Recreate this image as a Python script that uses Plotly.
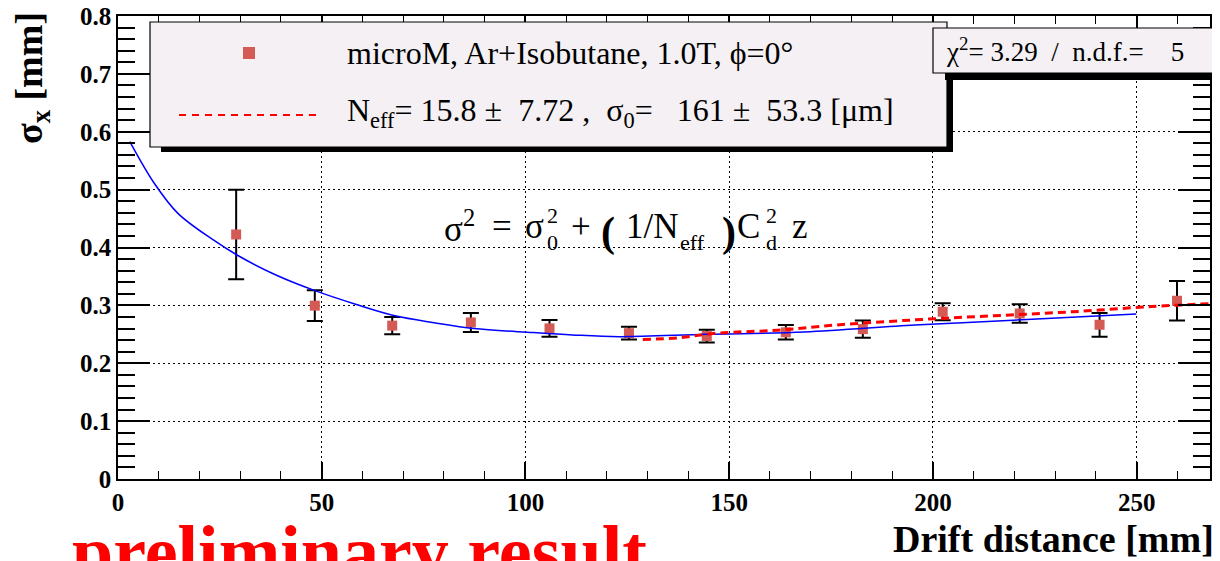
import plotly.graph_objects as go

# ---- data ----
drift_mm = [29.0, 48.3, 67.3, 86.6, 105.9, 125.4, 144.5, 163.9, 182.8, 202.4, 221.3, 240.9, 259.9]
sigma_mm = [0.4225, 0.2995, 0.265, 0.2705, 0.2602, 0.252, 0.247, 0.2535, 0.259, 0.289, 0.286, 0.2665, 0.308]
sigma_err = [0.0775, 0.0265, 0.015, 0.0165, 0.0144, 0.011, 0.011, 0.0125, 0.015, 0.0145, 0.016, 0.0205, 0.034]

blue_z = [2.9, 8.9, 14.7, 23.4, 29.2, 38.9, 48.5, 58.3, 68.0, 77.6, 87.3, 101.9, 111.5, 123.0, 144.3, 168.5, 195.6, 221.8, 249.9]
blue_s = [0.583, 0.511, 0.459, 0.413, 0.387, 0.352, 0.325, 0.302, 0.282, 0.270, 0.260, 0.253, 0.249, 0.246, 0.250, 0.254, 0.266, 0.275, 0.285]

red_z = [128.8, 137.5, 147.2, 161.7, 176.2, 195.6, 214.9, 234.3, 253.7, 268.0]
red_s = [0.241, 0.244, 0.252, 0.257, 0.266, 0.275, 0.282, 0.289, 0.298, 0.303]

x_ticks = [0, 50, 100, 150, 200, 250]
y_ticks = [0, 0.1, 0.2, 0.3, 0.4, 0.5, 0.6, 0.7, 0.8]
y_ticklabels = ["0", "0.1", "0.2", "0.3", "0.4", "0.5", "0.6", "0.7", "0.8"]

legend_line1 = "microM, Ar+Isobutane, 1.0T, \u03d5=0\u00b0"
legend_line2 = ("N<sub>eff</sub>= 15.8\u00a0\u00b1\u00a0\u00a07.72\u00a0,\u00a0\u00a0\u03c3<sub>0</sub>="
                "\u00a0\u00a0\u00a0161\u00a0\u00b1\u00a0\u00a053.3 [\u03bcm]")
chi2_text = "\u03c7<sup>2</sup>= 3.29\u00a0\u00a0/\u00a0\u00a0n.d.f.=\u00a0\u00a0\u00a0\u00a05"

# ---- geometry helpers (screen pixel -> paper) ----
W, H = 1220, 561
OFF = 8  # default page body margin
SL, SR, ST, SB = 118, 1210, 16, 479   # plot frame on screen
def px(x):
    return (x - SL) / (SR - SL)
def py(y):
    return (SB - y) / (SB - ST)

SERIF = "Liberation Serif, Times New Roman, serif"
MARK = "#d45a55"

fig = go.Figure()

fig.add_trace(go.Scatter(
    x=drift_mm, y=sigma_mm, mode="markers",
    marker=dict(symbol="square", size=10, color=MARK),
    error_y=dict(type="data", array=sigma_err, visible=True, color="black", thickness=2, width=8),
    showlegend=False, cliponaxis=False))

fig.add_trace(go.Scatter(
    x=blue_z, y=blue_s, mode="lines", line=dict(color="#0000ff", width=1.5, shape="spline"),
    showlegend=False))

fig.add_trace(go.Scatter(
    x=red_z, y=red_s, mode="lines", line=dict(color="#ff0000", width=3, dash="8px,5px", shape="spline"),
    showlegend=False))

shapes = []
# legend shadow + box
shapes.append(dict(type="rect", xref="paper", yref="paper", x0=px(161), x1=px(953), y0=py(152), y1=py(28),
                   fillcolor="black", line=dict(width=0), layer="above"))
shapes.append(dict(type="rect", xref="paper", yref="paper", x0=px(150), x1=px(947), y0=py(147), y1=py(22),
                   fillcolor="#f4f0f4", line=dict(color="black", width=1.2), layer="above"))
# chi2 shadow + box
shapes.append(dict(type="rect", xref="paper", yref="paper", x0=px(945), x1=px(1230), y0=py(80), y1=py(34),
                   fillcolor="black", line=dict(width=0), layer="above"))
shapes.append(dict(type="rect", xref="paper", yref="paper", x0=px(933), x1=px(1218), y0=py(73), y1=py(28),
                   fillcolor="#f4f0f4", line=dict(color="black", width=1.2), layer="above"))
# legend symbols
shapes.append(dict(type="rect", xref="paper", yref="paper", x0=px(243), x1=px(255), y0=py(59), y1=py(47),
                   fillcolor=MARK, line=dict(width=0), layer="above"))
shapes.append(dict(type="line", xref="paper", yref="paper", x0=px(179), x1=px(318), y0=py(115), y1=py(115),
                   line=dict(color="#ff0000", width=2, dash="7px,6px"), layer="above"))

ann = []
def add_text(text, x, y, size, xanchor="left", yanchor="middle", weight="normal", color="black", angle=0):
    ann.append(dict(text=text, xref="paper", yref="paper", x=px(x), y=py(y), xanchor=xanchor, yanchor=yanchor,
                    showarrow=False, textangle=angle,
                    font=dict(family=SERIF, size=size, color=color, weight=weight)))

add_text(legend_line1, 345, 53, 32)
add_text(legend_line2, 345, 112, 32)
add_text(chi2_text, 944, 50, 27)

# formula  sigma^2 = sigma_0^2 + (1/N_eff) C_d^2 z
FS = 35
add_text("\u03c3<sup>2</sup>", 442, 226, FS)
add_text("=", 490, 226, FS)
add_text("\u03c3", 523, 226, FS)
add_text("0", 545, 242, 22)
add_text("2", 545, 215, 22)
add_text("+", 569, 226, FS)
add_text("(", 599, 232, 42, weight="bold")
add_text("1/N", 624, 226, FS)
add_text("eff", 678, 242, 22)
add_text(")", 720, 232, 42, weight="bold")
add_text("C", 735, 226, FS)
add_text("d", 764, 242, 22)
add_text("2", 764, 215, 22)
add_text("z", 790, 226, FS)

add_text("Drift distance [mm]", 1216, 539, 38, xanchor="right", weight="bold")
add_text("\u03c3<sub>x</sub> [mm]", 32, 78, 38, xanchor="center", weight="bold", angle=-90)
add_text("preliminary result", 70, 552, 74, weight="bold", color="#ff0000")

fig.update_layout(
    width=W, height=H,
    margin=dict(l=SL - OFF, r=W - (SR - OFF), t=ST - OFF, b=H - (SB - OFF), autoexpand=False),
    paper_bgcolor="white", plot_bgcolor="white",
    shapes=shapes, annotations=ann,
    showlegend=False,
)

fig.update_xaxes(
    automargin=False, ticklabeloverflow="allow",
    range=[0, 268], tickvals=x_ticks, ticktext=[str(v) for v in x_ticks],
    showline=True, linecolor="black", linewidth=1.5, mirror="ticks",
    ticks="inside", ticklen=17, tickwidth=1.5, tickcolor="black",
    minor=dict(dtick=10, ticks="inside", ticklen=8, tickwidth=1.2, tickcolor="black", showgrid=False),
    showgrid=True, gridcolor="black", gridwidth=1, griddash="2px,3px", zeroline=False,
    tickfont=dict(family=SERIF, size=25, color="black", weight="bold"),
)
fig.update_yaxes(
    automargin=False, ticklabeloverflow="allow",
    range=[0, 0.8], tickvals=y_ticks, ticktext=y_ticklabels,
    showline=True, linecolor="black", linewidth=1.5, mirror="ticks",
    ticks="inside", ticklen=32, tickwidth=2, tickcolor="black",
    minor=dict(dtick=0.02, ticks="inside", ticklen=17, tickwidth=1.5, tickcolor="black", showgrid=False),
    showgrid=True, gridcolor="black", gridwidth=1, griddash="2px,3px", zeroline=False,
    tickfont=dict(family=SERIF, size=25, color="black", weight="bold"),
)

fig.write_html("out.html")
